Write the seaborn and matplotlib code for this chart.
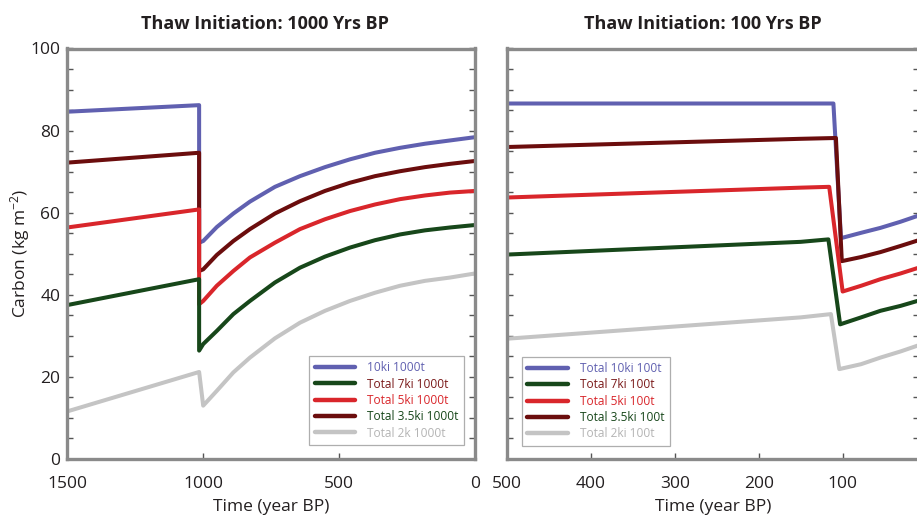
import matplotlib
matplotlib.use("Agg")
import matplotlib.pyplot as plt
import seaborn as sns
import pandas as pd
from matplotlib.ticker import MultipleLocator

# series keys (legend order) and the colours of their lines
series_keys = ["10ki", "7ki", "5ki", "3.5ki", "2k"]
line_colors = ["#6060b0", "#17471a", "#d9262b", "#6b0d0d", "#c4c4c4"]
# the legend text colours do not follow the line colours in the original
text_colors = ["#6060b0", "#7a1a1a", "#d9262b", "#17471a", "#b4b4b4"]
# drawing order (last one ends up on top)
draw_order = ["10ki", "3.5ki", "5ki", "7ki", "2k"]

left_labels = ["10ki 1000t", "Total 7ki 1000t", "Total 5ki 1000t",
               "Total 3.5ki 1000t", "Total 2k 1000t"]
right_labels = ["Total 10ki 100t", "Total 7ki 100t", "Total 5ki 100t",
                "Total 3.5ki 100t", "Total 2ki 100t"]

# ---- thaw starting 1000 yr BP ----
left_years = [1500, 1015, 1015, 1000, 950, 889, 828, 736, 644, 552, 460, 368, 276, 184, 92, 0]
left_10ki = [84.6, 86.2, 52.7, 53.1, 56.5, 59.8, 62.7, 66.3, 68.9, 71.1, 73.0, 74.6, 75.8, 76.8, 77.6, 78.4]
left_3_5ki = [72.2, 74.6, 45.8, 46.2, 49.7, 53.1, 56.0, 59.8, 62.8, 65.3, 67.3, 68.9, 70.1, 71.1, 71.9, 72.6]
left_5ki = [56.4, 60.8, 37.7, 38.5, 42.2, 45.8, 49.1, 52.7, 56.0, 58.4, 60.4, 62.0, 63.3, 64.2, 64.9, 65.3]
left_7ki = [37.5, 43.8, 26.4, 28.0, 31.2, 35.3, 38.5, 43.0, 46.6, 49.3, 51.5, 53.3, 54.7, 55.7, 56.4, 57.0]
left_years_2k = [1500, 1015, 1000, 950, 889, 828, 736, 644, 552, 460, 368, 276, 184, 92, 0]
left_2k = [11.6, 21.2, 13.0, 16.6, 21.1, 24.7, 29.4, 33.2, 36.1, 38.5, 40.5, 42.2, 43.4, 44.2, 45.2]

# ---- thaw starting 100 yr BP ----
right_years_10ki = [500, 111, 102, 78, 55, 31, 11, 0]
right_10ki = [86.6, 86.6, 53.8, 55.1, 56.3, 57.8, 59.2, 60.0]
right_years_3_5ki = [500, 150, 108, 101, 78, 55, 31, 11, 0]
right_3_5ki = [76.0, 78.0, 78.2, 48.2, 49.2, 50.4, 51.9, 53.2, 53.8]
right_years_5ki = [500, 150, 116, 100, 78, 55, 31, 11, 0]
right_5ki = [63.7, 66.1, 66.3, 40.8, 42.2, 43.8, 45.2, 46.5, 47.1]
right_years_7ki = [500, 150, 117, 103, 78, 55, 31, 11, 0]
right_7ki = [49.8, 52.9, 53.5, 32.8, 34.5, 36.1, 37.3, 38.5, 39.0]
right_years_2k = [500, 150, 114, 104, 78, 55, 31, 11, 0]
right_2k = [29.3, 34.5, 35.3, 21.9, 23.1, 24.7, 26.2, 27.6, 28.1]


def make_frame(parts):
    rows = []
    for key, xs, ys in parts:
        for i, (x, y) in enumerate(zip(xs, ys)):
            rows.append({"series": key, "order": i, "year": x, "carbon": y})
    return pd.DataFrame(rows)


left_df = make_frame([
    ("10ki", left_years, left_10ki),
    ("7ki", left_years, left_7ki),
    ("5ki", left_years, left_5ki),
    ("3.5ki", left_years, left_3_5ki),
    ("2k", left_years_2k, left_2k),
])
right_df = make_frame([
    ("10ki", right_years_10ki, right_10ki),
    ("7ki", right_years_7ki, right_7ki),
    ("5ki", right_years_5ki, right_5ki),
    ("3.5ki", right_years_3_5ki, right_3_5ki),
    ("2k", right_years_2k, right_2k),
])

sns.set_style("white")
plt.rcParams["font.family"] = ["Open Sans", "DejaVu Sans"]
plt.rcParams["mathtext.default"] = "regular"
plt.rcParams["text.color"] = "#231f20"
plt.rcParams["axes.labelcolor"] = "#231f20"
plt.rcParams["xtick.color"] = "#231f20"
plt.rcParams["ytick.color"] = "#231f20"

palette = dict(zip(series_keys, line_colors))

W, H = 917, 521
fig = plt.figure(figsize=(W / 100, H / 100), dpi=100)
ax1 = fig.add_axes([67.3 / W, 1 - 459 / H, (475 - 67.3) / W, (459 - 48.5) / H])
ax2 = fig.add_axes([507 / W, 1 - 459 / H, (919 - 507) / W, (459 - 48.5) / H])


def draw_panel(ax, df, labels, title, title_x, legend_loc, legend_anchor):
    sns.lineplot(data=df, x="year", y="carbon", hue="series", hue_order=draw_order,
                 palette=palette, estimator=None, sort=False, units="series",
                 linewidth=2.9, ax=ax)
    handles, keys = ax.get_legend_handles_labels()
    lookup = dict(zip(keys, handles))
    ax.get_legend().remove()
    leg = ax.legend([lookup[k] for k in series_keys], labels, loc=legend_loc,
                    bbox_to_anchor=legend_anchor, fontsize=8.6, frameon=True,
                    fancybox=False, handlelength=3.4, handletextpad=1.0,
                    labelspacing=0.28, borderpad=0.45, borderaxespad=0)
    leg.get_frame().set_edgecolor("#9a9a9a")
    leg.get_frame().set_linewidth(0.9)
    for txt, c in zip(leg.get_texts(), text_colors):
        txt.set_color(c)
    for line in leg.get_lines():
        line.set_linewidth(3.2)

    ax.set_ylim(0, 100)
    ax.yaxis.set_major_locator(MultipleLocator(20))
    ax.yaxis.set_minor_locator(MultipleLocator(5))
    ax.tick_params(which="both", direction="in", length=4, width=1,
                   color="#555555", left=True, right=True, bottom=True, top=False,
                   labelsize=12.5)
    ax.tick_params(axis="y", pad=5)
    ax.tick_params(axis="x", pad=12)
    ax.tick_params(axis="x", which="minor", bottom=False)
    for sp in ax.spines.values():
        sp.set_color("#8a8a8a")
        sp.set_linewidth(2.4)
    ax.set_xlabel("Time (year BP)", fontsize=12.5, labelpad=5)
    ax.set_title(title, fontsize=13, fontweight="bold", x=title_x, pad=14)


draw_panel(ax1, left_df, left_labels, "Thaw Initiation: 1000 Yrs BP", 0.485,
           "lower right", (0.973, 0.034))
ax1.set_xlim(1500, 0)
ax1.set_xticks([1500, 1000, 500, 0])
ax1.set_ylabel("Carbon (kg m$^{-2}$)", fontsize=12.5, labelpad=-1)

draw_panel(ax2, right_df, right_labels, "Thaw Initiation: 100 Yrs BP", 0.476,
           "lower left", (0.036, 0.032))
ax2.set_xlim(500, 9)
ax2.set_xticks([500, 400, 300, 200, 100])
ax2.set_ylabel("")
ax2.tick_params(labelleft=False)

fig.savefig("out.png", dpi=100)
